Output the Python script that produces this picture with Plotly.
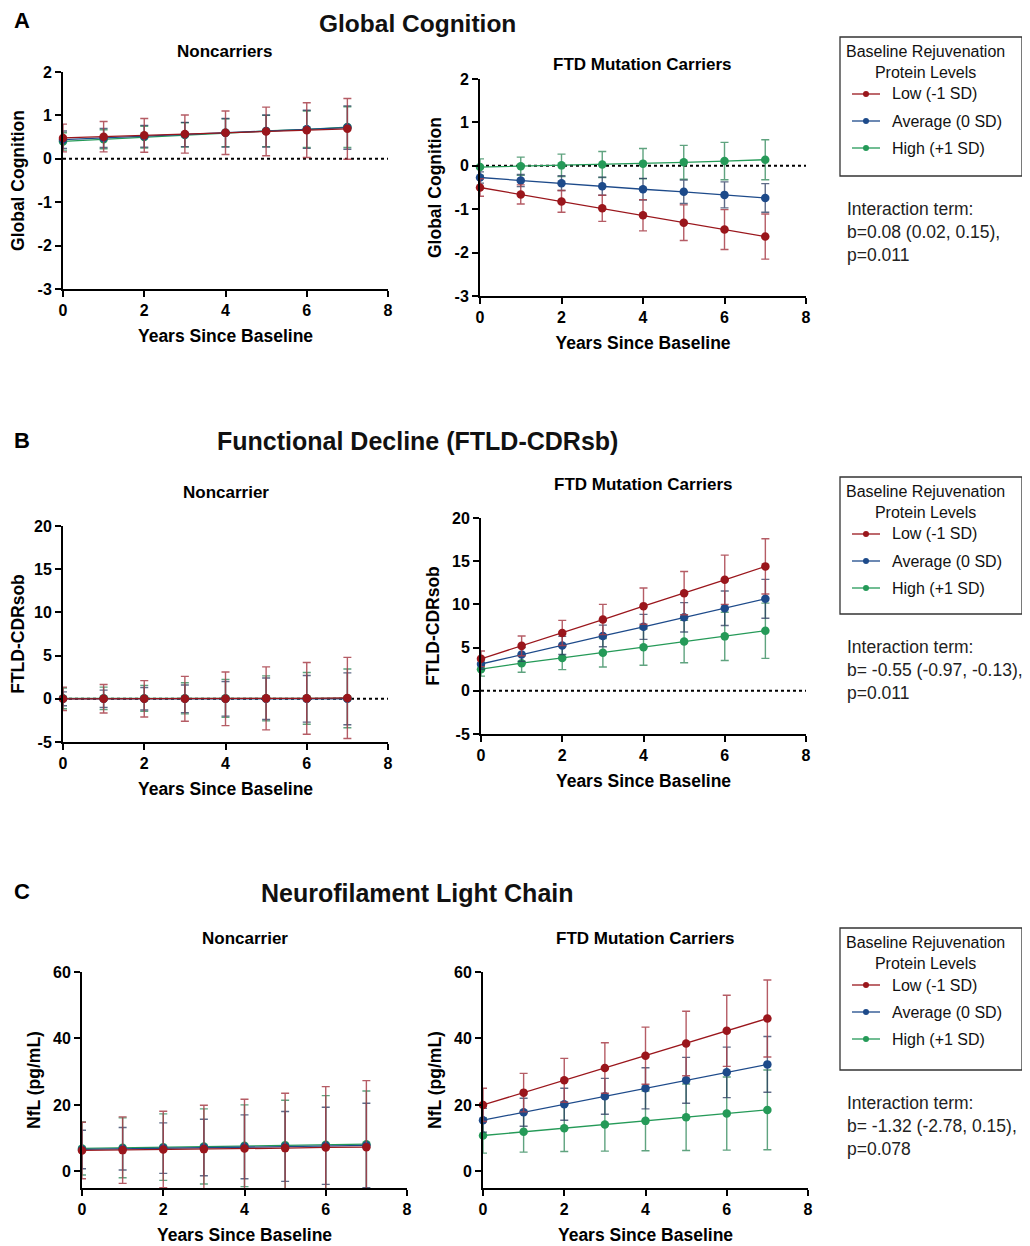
import plotly.graph_objects as go

# The page body has an 8px margin; the figure is sized and offset to compensate
OFF = 8
W, H = 1030 - OFF, 1246 - OFF

years = [0, 1, 2, 3, 4, 5, 6, 7]
groups = ["Low (-1 SD)", "Average (0 SD)", "High (+1 SD)"]

# ---- A: Global Cognition ----
a_nc_low = [0.48, 0.51, 0.54, 0.57, 0.60, 0.63, 0.66, 0.69]
a_nc_low_err = [0.32, 0.35, 0.39, 0.44, 0.50, 0.56, 0.63, 0.70]
a_nc_avg = [0.44, 0.48, 0.52, 0.56, 0.60, 0.64, 0.68, 0.72]
a_nc_avg_err = [0.20, 0.22, 0.25, 0.28, 0.33, 0.37, 0.44, 0.50]
a_nc_high = [0.40, 0.45, 0.50, 0.55, 0.60, 0.64, 0.68, 0.73]
a_nc_high_err = [0.20, 0.22, 0.25, 0.28, 0.32, 0.36, 0.42, 0.47]

a_c_low = [-0.50, -0.66, -0.82, -0.98, -1.14, -1.31, -1.47, -1.63]
a_c_low_err = [0.20, 0.22, 0.25, 0.30, 0.36, 0.41, 0.46, 0.52]
a_c_avg = [-0.27, -0.34, -0.40, -0.47, -0.54, -0.60, -0.67, -0.74]
a_c_avg_err = [0.13, 0.14, 0.17, 0.21, 0.25, 0.27, 0.30, 0.33]
a_c_high = [-0.03, -0.01, 0.01, 0.03, 0.05, 0.08, 0.11, 0.14]
a_c_high_err = [0.19, 0.21, 0.26, 0.30, 0.35, 0.39, 0.43, 0.46]

# ---- B: FTLD-CDRsb ----
b_nc_low = [0.0, 0.0, 0.0, 0.0, 0.0, 0.05, 0.05, 0.10]
b_nc_low_err = [1.35, 1.65, 2.10, 2.60, 3.10, 3.65, 4.15, 4.70]
b_nc_avg = [0.0, 0.0, 0.0, 0.0, 0.0, 0.0, 0.0, 0.0]
b_nc_avg_err = [0.80, 1.00, 1.30, 1.60, 2.00, 2.40, 2.70, 3.00]
b_nc_high = [0.05, 0.05, 0.05, 0.05, 0.05, 0.05, 0.05, 0.05]
b_nc_high_err = [1.20, 1.30, 1.50, 1.80, 2.20, 2.60, 3.00, 3.40]

b_c_low = [3.7, 5.2, 6.7, 8.25, 9.8, 11.3, 12.85, 14.4]
b_c_low_err = [0.90, 1.15, 1.45, 1.75, 2.10, 2.50, 2.85, 3.20]
b_c_avg = [3.1, 4.2, 5.25, 6.35, 7.4, 8.5, 9.55, 10.65]
b_c_avg_err = [0.60, 0.80, 1.05, 1.25, 1.45, 1.70, 2.00, 2.25]
b_c_high = [2.5, 3.2, 3.8, 4.4, 5.05, 5.7, 6.3, 6.95]
b_c_high_err = [0.80, 1.05, 1.35, 1.65, 2.10, 2.45, 2.80, 3.20]

# ---- C: NfL ----
c_nc_low = [6.3, 6.4, 6.6, 6.7, 6.9, 7.0, 7.2, 7.3]
c_nc_low_err = [8.5, 10.0, 11.5, 13.2, 14.8, 16.5, 18.3, 20.0]
c_nc_avg = [6.6, 6.8, 7.0, 7.2, 7.4, 7.5, 7.7, 7.8]
c_nc_avg_err = [5.8, 6.4, 7.6, 8.5, 9.6, 10.5, 11.6, 12.7]
c_nc_high = [6.9, 7.1, 7.3, 7.5, 7.7, 7.9, 8.0, 8.2]
c_nc_high_err = [8.0, 9.0, 10.0, 11.3, 12.3, 13.5, 14.8, 16.0]

c_c_low = [20.0, 23.7, 27.4, 31.1, 34.8, 38.5, 42.3, 46.0]
c_c_low_err = [5.0, 5.8, 6.6, 7.6, 8.6, 9.7, 10.7, 11.6]
c_c_avg = [15.4, 17.8, 20.2, 22.6, 25.0, 27.4, 29.8, 32.2]
c_c_avg_err = [3.6, 4.2, 4.8, 5.4, 6.2, 6.9, 7.6, 8.4]
c_c_high = [10.8, 11.9, 13.0, 14.1, 15.2, 16.3, 17.4, 18.5]
c_c_high_err = [5.3, 6.1, 7.0, 8.0, 9.0, 10.0, 11.0, 12.0]

x_ticks = [0, 2, 4, 6, 8]
a_y_ticks = [-3, -2, -1, 0, 1, 2]
b_y_ticks = [-5, 0, 5, 10, 15, 20]
c_y_ticks = [0, 20, 40, 60]

section_titles = ["Global Cognition", "Functional Decline (FTLD-CDRsb)", "Neurofilament Light Chain"]
section_letters = ["A", "B", "C"]
y_titles = ["Global Cognition", "FTLD-CDRsob", "NfL (pg/mL)"]
x_title = "Years Since Baseline"
interaction_texts = [
    "Interaction term:<br>b=0.08 (0.02, 0.15),<br>p=0.011",
    "Interaction term:<br>b= -0.55 (-0.97, -0.13),<br>p=0.011",
    "Interaction term:<br>b= -1.32 (-2.78, 0.15),<br>p=0.078",
]
legend_title = "Baseline Rejuvenation<br>Protein Levels"

line_colors = ["#9a161c", "#1d4a8a", "#259a58"]
err_colors = ["rgba(168,64,74,0.85)", "rgba(40,58,95,0.75)", "rgba(55,140,95,0.8)"]

FONT = "Liberation Sans, Arial, sans-serif"


def px(x):
    return (x - OFF) / W


def py(y):
    return 1 - (y - OFF) / H


def bold_labels(vals):
    return [f"<b>{v}</b>" for v in vals]


# panel pixel boxes (screen coords): (left, right, top, bottom)
panels = [
    dict(box=(63, 388, 72, 289), yr=[-3, 2], tv=a_y_ticks, dot=True, title="Noncarriers", tpos=(224, 51),
         data=[(a_nc_low, a_nc_low_err), (a_nc_avg, a_nc_avg_err), (a_nc_high, a_nc_high_err)], ytitle=y_titles[0]),
    dict(box=(480, 806, 79, 296), yr=[-3, 2], tv=a_y_ticks, dot=True, title="FTD Mutation Carriers", tpos=(642, 64),
         data=[(a_c_low, a_c_low_err), (a_c_avg, a_c_avg_err), (a_c_high, a_c_high_err)], ytitle=y_titles[0]),
    dict(box=(63, 388, 526, 742), yr=[-5, 20], tv=b_y_ticks, dot=True, title="Noncarrier", tpos=(226, 492),
         data=[(b_nc_low, b_nc_low_err), (b_nc_avg, b_nc_avg_err), (b_nc_high, b_nc_high_err)], ytitle=y_titles[1]),
    dict(box=(481, 806, 518, 734), yr=[-5, 20], tv=b_y_ticks, dot=True, title="FTD Mutation Carriers", tpos=(643, 484),
         data=[(b_c_low, b_c_low_err), (b_c_avg, b_c_avg_err), (b_c_high, b_c_high_err)], ytitle=y_titles[1]),
    dict(box=(82, 407, 972, 1188), yr=[-5, 60], tv=c_y_ticks, dot=False, title="Noncarrier", tpos=(245, 938),
         data=[(c_nc_low, c_nc_low_err), (c_nc_avg, c_nc_avg_err), (c_nc_high, c_nc_high_err)], ytitle=y_titles[2]),
    dict(box=(483, 808, 972, 1188), yr=[-5, 60], tv=c_y_ticks, dot=False, title="FTD Mutation Carriers", tpos=(645, 938),
         data=[(c_c_low, c_c_low_err), (c_c_avg, c_c_avg_err), (c_c_high, c_c_high_err)], ytitle=y_titles[2]),
]

fig = go.Figure()
annotations = []
shapes = []

tickfont = dict(family=FONT, size=16, color="black")
titlefont = dict(family=FONT, size=17.5, color="black")

for i, p in enumerate(panels):
    n = i + 1
    xa = "x" if n == 1 else f"x{n}"
    ya = "y" if n == 1 else f"y{n}"
    l, r, t, b = p["box"]
    # draw High, Average, Low (Low on top)
    for g in [2, 1, 0]:
        vals, errs = p["data"][g]
        fig.add_trace(go.Scatter(
            x=years, y=vals, mode="lines+markers", name=groups[g],
            xaxis=xa, yaxis=ya, showlegend=False, cliponaxis=False,
            line=dict(color=line_colors[g], width=1.3),
            marker=dict(color=line_colors[g], size=8.5),
            error_y=dict(type="data", array=errs, visible=True, color=err_colors[g], thickness=1.4, width=4),
        ))
    axkey_x = "xaxis" if n == 1 else f"xaxis{n}"
    axkey_y = "yaxis" if n == 1 else f"yaxis{n}"
    fig.layout[axkey_x] = dict(
        domain=[px(l), px(r)], anchor=ya, range=[0, 8], tickvals=x_ticks, ticktext=bold_labels(x_ticks),
        showline=True, linecolor="black", linewidth=2, ticks="outside", ticklen=6, tickwidth=2,
        tickcolor="black", showgrid=False, zeroline=False, tickfont=tickfont, automargin=False,
        title=dict(text=f"<b>{x_title}</b>", font=titlefont, standoff=12),
    )
    fig.layout[axkey_y] = dict(
        domain=[py(b), py(t)], anchor=xa, range=p["yr"], tickvals=p["tv"], ticktext=bold_labels(p["tv"]),
        showline=True, linecolor="black", linewidth=2, ticks="outside", ticklen=6, tickwidth=2,
        tickcolor="black", showgrid=False, zeroline=False, tickfont=tickfont, automargin=False,
        title=dict(text=f"<b>{p['ytitle']}</b>", font=titlefont, standoff=8),
    )
    if p["dot"]:
        shapes.append(dict(type="line", xref=xa, yref=ya, x0=0, x1=8, y0=0, y1=0,
                           line=dict(color="black", width=2, dash="dot"), layer="below"))
    annotations.append(dict(text=f"<b>{p['title']}</b>", x=px(p["tpos"][0]), y=py(p["tpos"][1]),
                            xref="paper", yref="paper", showarrow=False, xanchor="center", yanchor="middle",
                            font=dict(family=FONT, size=17, color="black")))

# section letters and titles
sec_pos = [(22, 20), (22, 440), (22, 891)]
sec_title_pos = [(417, 20), (417, 441), (417, 893)]
for k in range(3):
    annotations.append(dict(text=f"<b>{section_letters[k]}</b>", x=px(sec_pos[k][0]), y=py(sec_pos[k][1]),
                            xref="paper", yref="paper", showarrow=False, xanchor="center", yanchor="middle",
                            font=dict(family=FONT, size=22, color="black")))
    if k == 0:
        # anchored by its top so it stays inside the figure
        annotations.append(dict(text=f"<b>{section_titles[k]}</b>", x=px(sec_title_pos[k][0]), y=py(OFF + 1),
                                xref="paper", yref="paper", showarrow=False, xanchor="center", yanchor="top",
                                borderpad=0, font=dict(family=FONT, size=24.5, color="#111111")))
    else:
        annotations.append(dict(text=f"<b>{section_titles[k]}</b>", x=px(sec_title_pos[k][0]),
                                y=py(sec_title_pos[k][1]), xref="paper", yref="paper", showarrow=False,
                                xanchor="center", yanchor="middle",
                                font=dict(family=FONT, size=25, color="#111111")))

# legend boxes (manual) and interaction text
leg_boxes = [(37, 176), (477, 614), (928, 1070)]
for k in range(3):
    top, bot = leg_boxes[k]
    shapes.append(dict(type="rect", xref="paper", yref="paper", x0=px(840), x1=px(1022), y0=py(bot), y1=py(top),
                       line=dict(color="#333333", width=1.3), fillcolor="white"))
    annotations.append(dict(text=legend_title, x=px(925), y=py(top + 4), xref="paper", yref="paper",
                            showarrow=False, xanchor="center", yanchor="top", align="center",
                            font=dict(family=FONT, size=16, color="#111111")))
    for g in range(3):
        yy = top + 57 + 27 * g
        shapes.append(dict(type="line", xref="paper", yref="paper", x0=px(852), x1=px(880), y0=py(yy), y1=py(yy),
                           line=dict(color=line_colors[g], width=1.3)))
        shapes.append(dict(type="circle", xref="paper", yref="paper", x0=px(863), x1=px(869), y0=py(yy + 3),
                           y1=py(yy - 3), line=dict(color=line_colors[g], width=0), fillcolor=line_colors[g]))
        annotations.append(dict(text=groups[g], x=px(890), y=py(yy), xref="paper", yref="paper",
                                showarrow=False, xanchor="left", yanchor="middle",
                                font=dict(family=FONT, size=16, color="#111111")))
    annotations.append(dict(text=interaction_texts[k], x=px(845), y=py(bot + 21), xref="paper", yref="paper",
                            showarrow=False, xanchor="left", yanchor="top", align="left",
                            font=dict(family=FONT, size=17.5, color="#222222")))

fig.update_layout(
    width=W, height=H, margin=dict(l=0, r=0, t=0, b=0, autoexpand=False),
    paper_bgcolor="white", plot_bgcolor="white",
    showlegend=False, annotations=annotations, shapes=shapes,
    font=dict(family=FONT, color="black"),
)

fig.write_html("out.html")
